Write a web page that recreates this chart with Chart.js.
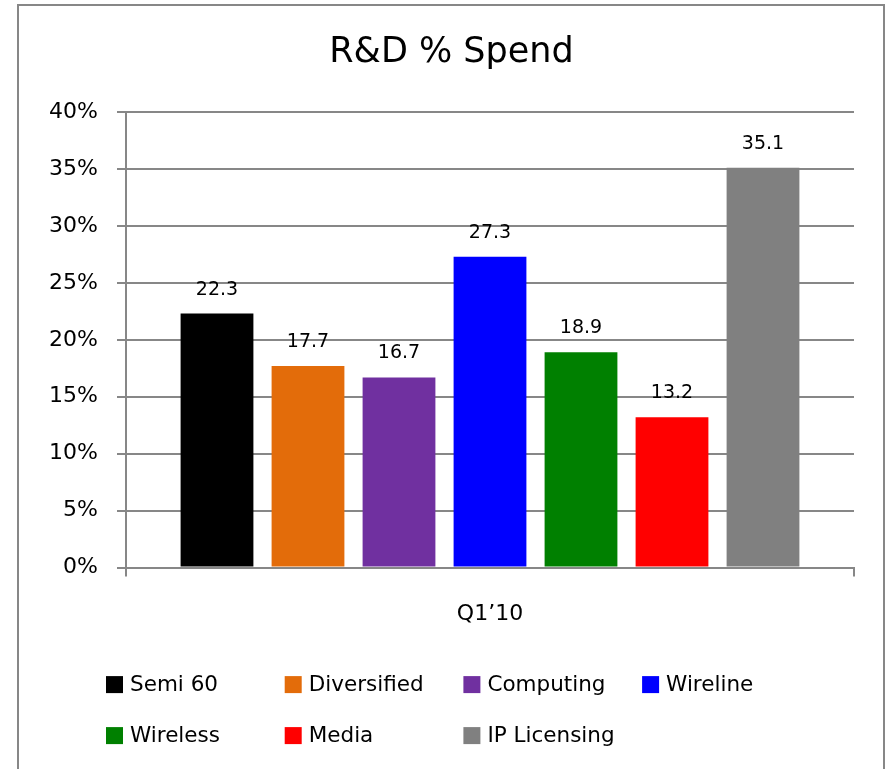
<!DOCTYPE html>
<html>
<head>
<meta charset="utf-8">
<script src="https://cdn.jsdelivr.net/npm/chart.js@4.4.0/dist/chart.umd.min.js"></script>
<style>
  html, body { margin: 0; padding: 0; background: #fff; }
  #frame { position: absolute; left: 17px; top: 4px; width: 864px; height: 820px; border: 2px solid #878787; }
  #wrap { position: absolute; left: 0; top: 0; width: 887px; height: 769px; }
</style>
</head>
<body>
<div id="frame"></div>
<div id="wrap"><canvas id="rdChart"></canvas></div>
<script>
// data
const categories = ['Q1’10'];
const seriesNames = ['Semi 60', 'Diversified', 'Computing', 'Wireline', 'Wireless', 'Media', 'IP Licensing'];
const seriesValues = [22.3, 17.7, 16.7, 27.3, 18.9, 13.2, 35.1];
const seriesColors = ['#000000', '#E36C0A', '#7030A0', '#0000FF', '#008000', '#FF0000', '#808080'];
const yTickValues = [0, 5, 10, 15, 20, 25, 30, 35, 40];

const gridGray = '#878787';
Chart.defaults.font.family = '"DejaVu Sans", sans-serif';
Chart.defaults.color = '#000';

// value above every bar, placed from the bar element itself
const valueLabels = {
  id: 'valueLabels',
  afterDatasetsDraw(chart) {
    const ctx = chart.ctx;
    ctx.save();
    ctx.font = '19px "DejaVu Sans"';
    ctx.fillStyle = '#000';
    ctx.textAlign = 'center';
    ctx.textBaseline = 'alphabetic';
    chart.data.datasets.forEach((ds, i) => {
      chart.getDatasetMeta(i).data.forEach((bar, j) => {
        ctx.fillText(ds.data[j].toFixed(1), bar.x, bar.y - 19);
      });
    });
    ctx.restore();
  }
};

// legend in a 4 column grid under the axis
const gridLegend = {
  id: 'gridLegend',
  afterDraw(chart) {
    const ctx = chart.ctx;
    const top = chart.chartArea.bottom + 117;
    ctx.save();
    ctx.font = '21.5px "DejaVu Sans"';
    ctx.textBaseline = 'middle';
    ctx.textAlign = 'left';
    chart.data.datasets.forEach((ds, i) => {
      const col = i % 4, row = Math.floor(i / 4);
      const x = 106 + col * 178.7;
      const y = top + row * 51;
      ctx.fillStyle = ds.backgroundColor;
      ctx.fillRect(x, y - 8.5, 17, 17);
      ctx.fillStyle = '#000';
      ctx.fillText(ds.label, x + 24, y + 1);
    });
    ctx.restore();
  }
};

const ctx = document.getElementById('rdChart').getContext('2d');
const rdChart = new Chart(ctx, {
  type: 'bar',
  data: {
    labels: categories,
    datasets: seriesNames.map((name, i) => ({
      label: name,
      data: [seriesValues[i]],
      backgroundColor: seriesColors[i],
      borderWidth: 0,
      inflateAmount: 0,
      categoryPercentage: 0.875,
      barPercentage: 0.8
    }))
  },
  options: {
    responsive: true,
    maintainAspectRatio: false,
    animation: false,
    layout: {
      padding: { left: 49, right: 33, top: 32, bottom: 118 }
    },
    plugins: {
      title: {
        display: true,
        text: 'R&D % Spend',
        color: '#000',
        font: { size: 35, weight: 'normal' },
        padding: { top: 0, bottom: 38 }
      },
      legend: { display: false },
      tooltip: { enabled: false }
    },
    scales: {
      x: {
        offset: true,
        grid: {
          offset: true,
          drawOnChartArea: false,
          drawTicks: true,
          tickLength: 9,
          color: gridGray,
          lineWidth: 2
        },
        border: { display: true, color: gridGray, width: 2 },
        ticks: { color: '#000', font: { size: 22 }, padding: 24 }
      },
      y: {
        min: yTickValues[0],
        max: yTickValues[yTickValues.length - 1],
        afterFit(scale) { scale.width = 77; },
        ticks: {
          stepSize: yTickValues[1] - yTickValues[0],
          callback: v => v + '%',
          color: '#000',
          font: { size: 22 },
          padding: 19
        },
        grid: { color: gridGray, lineWidth: 2, tickLength: 9 },
        border: { display: true, color: gridGray, width: 2 }
      }
    }
  },
  plugins: [valueLabels, gridLegend]
});
</script>
</body>
</html>
